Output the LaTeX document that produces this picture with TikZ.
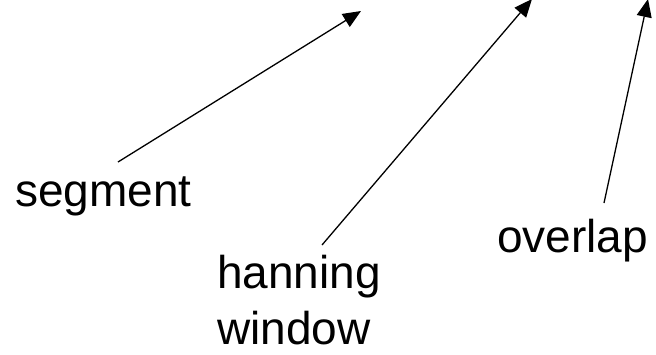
\documentclass[tikz,border=0pt]{standalone}
\usepackage{fontspec}
\setmainfont{Liberation Sans}
\usetikzlibrary{arrows.meta}
\begin{document}
\begin{tikzpicture}[x=1pt,y=-1pt,
  lbl/.style={anchor=base west,inner sep=0pt,font=\fontsize{46}{56}\selectfont},
  ptr/.style={line width=1.3pt,-{Triangle[length=18pt,width=15pt]}}]
\useasboundingbox (0,0) rectangle (656,354);
\node[lbl] (seg) at (15,206) {segment};
\node[lbl,align=left] (han) at (217,344) {hanning\\window};
\node[lbl] (ovl) at (497,252) {overlap};
\coordinate (segS) at (118,162);
\coordinate (segT) at (361,11);
\coordinate (hanS) at (322,245);
\coordinate (hanT) at (532,-1);
\coordinate (ovlS) at (604,203);
\coordinate (ovlT) at (648,-1);
\draw[ptr] (segS) -- (segT);
\draw[ptr] (hanS) -- (hanT);
\draw[ptr] (ovlS) -- (ovlT);
\end{tikzpicture}
\end{document}
